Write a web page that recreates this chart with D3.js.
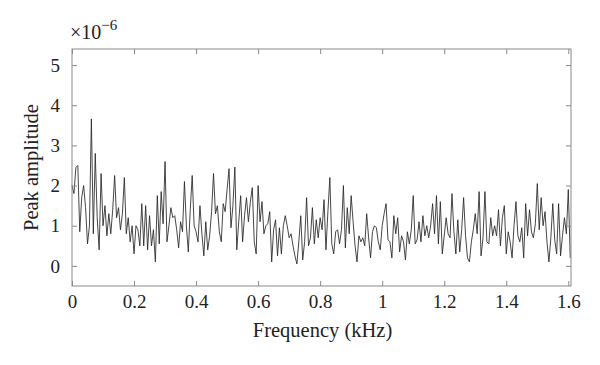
<!DOCTYPE html>
<html><head><meta charset="utf-8">
<script src="https://cdn.jsdelivr.net/npm/d3@7"></script>
<style>body{margin:0;background:#fff}svg{display:block}</style>
</head><body>
<script>
// Frequency step (kHz) and amplitude samples (×1e-6)
const freqStep = 0.00625;
const amplitude = [
2.0,1.8,2.45,2.5,0.85,1.7,2.0,1.45,0.55,1.0,
3.66,0.8,2.8,1.2,0.4,2.3,1.0,1.5,0.75,1.3,
0.8,1.4,2.25,1.2,1.45,0.9,1.3,2.2,0.8,1.2,
0.6,1.0,0.3,1.0,0.9,0.5,1.55,0.5,1.5,0.4,
1.25,0.5,0.9,0.1,1.75,0.55,1.85,1.05,2.6,0.6,
1.0,1.45,1.2,1.25,0.9,0.45,1.1,0.85,2.1,1.0,
0.35,1.4,2.25,1.0,0.85,0.6,1.5,0.8,0.25,1.1,
0.4,0.75,1.35,2.3,1.3,1.5,0.85,0.6,1.55,1.35,
1.9,2.42,0.95,1.5,2.46,0.4,1.1,1.75,0.6,1.25,
1.7,1.1,1.6,1.95,0.6,0.3,2.0,1.1,1.6,0.8,
1.0,1.05,1.35,0.1,0.9,1.15,0.25,0.95,0.3,1.0,
1.25,1.0,0.7,0.8,0.5,0.25,0.05,0.6,1.25,0.15,
0.6,1.7,0.5,0.7,1.45,0.55,1.15,0.7,1.2,0.9,
1.65,0.4,1.35,2.2,0.55,0.3,0.85,0.9,0.55,0.9,
2.0,0.45,1.45,0.8,1.75,1.1,0.5,0.1,0.75,0.6,
0.7,0.5,1.3,0.7,0.2,0.85,1.0,0.95,0.6,0.4,
1.0,1.3,1.55,0.65,0.6,0.2,1.25,0.8,1.2,0.35,
0.75,0.6,0.15,0.85,0.55,0.9,1.75,0.55,0.65,1.1,
0.6,1.25,0.75,1.0,0.7,1.0,1.55,0.8,1.75,0.55,
1.6,0.3,0.75,1.2,0.8,0.7,1.8,0.85,0.3,1.15,
0.35,0.9,1.7,0.75,0.2,0.1,0.6,0.9,1.3,0.8,
1.85,0.25,0.7,1.85,0.6,0.55,1.2,0.75,1.0,0.75,
1.4,0.5,1.2,1.5,0.3,0.85,0.6,0.2,1.0,1.6,
0.75,0.6,0.95,0.2,1.55,0.75,1.4,0.85,0.7,1.05,
2.05,0.9,1.7,1.0,1.35,0.6,0.1,0.7,1.55,0.65,
0.3,1.55,0.25,0.75,1.2,0.8,1.9,0.2
];
const xTicks = [0,0.2,0.4,0.6,0.8,1,1.2,1.4,1.6];
const xTickLabels = ["0","0.2","0.4","0.6","0.8","1","1.2","1.4","1.6"];
const yTicks = [0,1,2,3,4,5];
const yTickLabels = ["0","1","2","3","4","5"];
const xDomain = [0, 1.6087];
const yDomain = [-0.5, 5.4];

const W = 600, H = 365;
const m = {left:72, right:29, top:49, bottom:79};
const svg = d3.select("body").append("svg").attr("width",W).attr("height",H);
const x = d3.scaleLinear().domain(xDomain).range([m.left, W-m.right]);
const y = d3.scaleLinear().domain(yDomain).range([H-m.bottom, m.top]);
const font = "'Liberation Serif','DejaVu Serif',serif";
const axisCol = "#8a8a8a";

const data = amplitude.map((v,i)=>({f:i*freqStep, v}));

// line
svg.append("path").datum(data)
  .attr("fill","none").attr("stroke","#262626").attr("stroke-width",0.85)
  .attr("stroke-linejoin","round")
  .attr("d", d3.line().x(d=>x(d.f)).y(d=>y(d.v)));

// axes with inward ticks
function styleAxis(g){
  g.select(".domain").remove();
  g.selectAll(".tick line").attr("stroke",axisCol).attr("stroke-width",1);
  g.selectAll(".tick text").attr("fill","#222").style("font-family",font).style("font-size","19px");
}
const gBottom = svg.append("g").attr("transform",`translate(0,${H-m.bottom})`)
  .call(d3.axisBottom(x).tickValues(xTicks).tickFormat((d,i)=>xTickLabels[i]).tickSizeInner(-5).tickSizeOuter(0).tickPadding(9));
styleAxis(gBottom);
const gTop = svg.append("g").attr("transform",`translate(0,${m.top})`)
  .call(d3.axisTop(x).tickValues(xTicks).tickFormat("").tickSizeInner(-5).tickSizeOuter(0));
styleAxis(gTop);
const gLeft = svg.append("g").attr("transform",`translate(${m.left},0)`)
  .call(d3.axisLeft(y).tickValues(yTicks).tickFormat((d,i)=>yTickLabels[i]).tickSizeInner(-5).tickSizeOuter(0).tickPadding(12));
styleAxis(gLeft);
const gRight = svg.append("g").attr("transform",`translate(${W-m.right},0)`)
  .call(d3.axisRight(y).tickValues(yTicks).tickFormat("").tickSizeInner(-5).tickSizeOuter(0));
styleAxis(gRight);

// box
svg.append("rect").attr("x",m.left).attr("y",m.top)
  .attr("width",W-m.left-m.right).attr("height",H-m.top-m.bottom)
  .attr("fill","none").attr("stroke",axisCol).attr("stroke-width",1);

// labels
svg.append("text").attr("x",(m.left+W-m.right)/2 + 1).attr("y",337)
  .attr("text-anchor","middle").style("font-family",font).style("font-size","20.5px").attr("fill","#222")
  .text("Frequency (kHz)");
svg.append("text").attr("transform",`translate(38,${(m.top+H-m.bottom)/2}) rotate(-90)`)
  .attr("text-anchor","middle").style("font-family",font).style("font-size","20.5px").attr("fill","#222")
  .text("Peak amplitude");
const mult = svg.append("text").attr("x",70).attr("y",39).style("font-family",font).style("font-size","20px").attr("fill","#222");
mult.append("tspan").text("×10");
mult.append("tspan").attr("dy",-9).style("font-size","15px").text("−6");
</script>
</body></html>
